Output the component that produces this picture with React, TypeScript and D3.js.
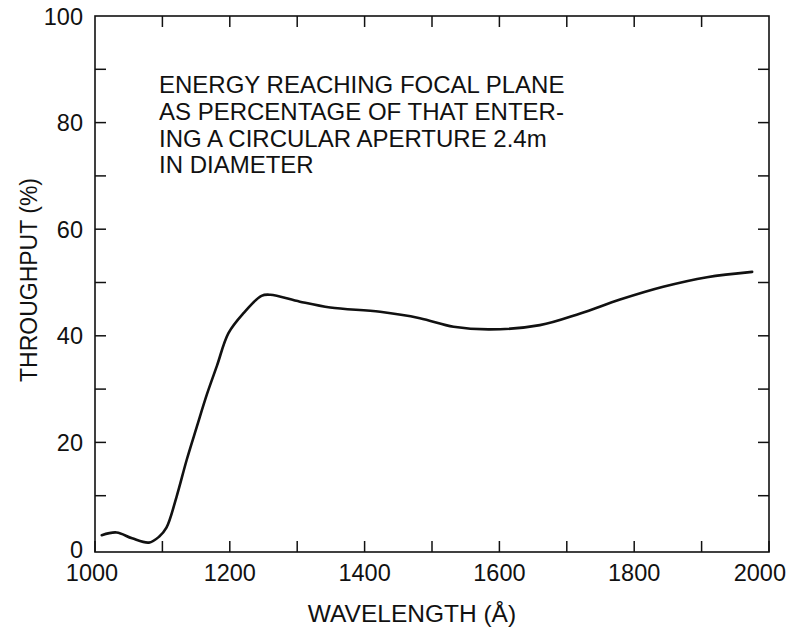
import React from "react";
import * as d3 from "d3";

const wavelength = [1010, 1032, 1055, 1080, 1095, 1106, 1121, 1136, 1151, 1166, 1181, 1198, 1220, 1247, 1260, 1304, 1349, 1423, 1482, 1532, 1586, 1660, 1720, 1779, 1843, 1908, 1975];
const throughput = [2.6, 3.1, 2.0, 1.2, 2.3, 4.0, 9.8, 16.7, 22.9, 29.0, 34.4, 40.5, 44.2, 47.5, 47.7, 46.4, 45.3, 44.5, 43.3, 41.7, 41.2, 42.0, 44.2, 46.8, 49.2, 51.0, 52.0];
const xTickLabels = [1000, 1200, 1400, 1600, 1800, 2000];
const yTickLabels = [0, 20, 40, 60, 80, 100];
const annotation = [
  "ENERGY REACHING FOCAL PLANE",
  "AS PERCENTAGE OF THAT ENTER-",
  "ING A CIRCULAR APERTURE 2.4m",
  "IN DIAMETER",
];

export default function App() {
  const W = 790, H = 633;
  const left = 95, right = 769, top = 16, frameBottom = 552;
  const x = d3.scaleLinear().domain([1000, 2000]).range([left, right]);
  const y = d3.scaleLinear().domain([0, 100]).range([549, top]);
  const minorX = d3.range(1000, 2001, 100);
  const minorY = d3.range(0, 101, 10);
  const tickLen = 11;
  const line = d3
    .line<number>()
    .x((_, i) => x(wavelength[i]))
    .y((d) => y(d))
    .curve(d3.curveCatmullRom.alpha(0.5));
  const font = "'Liberation Sans', Arial, Helvetica, sans-serif";
  const tickFs = 23.5;
  return (
    <svg width={W} height={H} style={{ position: "absolute", left: 0, top: 0, background: "#fff" }} fontFamily={font}>
      <rect x={0} y={0} width={W} height={H} fill="#fff" />
      <rect x={left} y={top} width={right - left} height={frameBottom - top} fill="none" stroke="#111" strokeWidth={1.6} />
      {minorX.map((v) => (
        <g key={"x" + v}>
          <line x1={x(v)} x2={x(v)} y1={frameBottom} y2={frameBottom - tickLen} stroke="#111" strokeWidth={1.5} />
          {v > 1000 && v < 2000 && (
            <line x1={x(v)} x2={x(v)} y1={top} y2={top + tickLen} stroke="#111" strokeWidth={1.5} />
          )}
        </g>
      ))}
      {minorY.map((v) => (
        <g key={"y" + v}>
          {v > 0 && v < 100 && (
            <>
              <line x1={left} x2={left + tickLen} y1={y(v)} y2={y(v)} stroke="#111" strokeWidth={1.5} />
              <line x1={right} x2={right - tickLen} y1={y(v)} y2={y(v)} stroke="#111" strokeWidth={1.5} />
            </>
          )}
        </g>
      ))}
      {xTickLabels.map((v, i) => {
        const last = i === xTickLabels.length - 1;
        const first = i === 0;
        return (
          <text
            key={"xl" + v}
            x={last ? W - 4 : x(v) - (first ? 3 : 0)}
            y={581}
            textAnchor={last ? "end" : "middle"}
            fontSize={tickFs}
            fill="#111"
          >
            {v}
          </text>
        );
      })}
      {yTickLabels.map((v) => (
        <text key={"yl" + v} x={83} y={y(v) + 8.5} textAnchor="end" fontSize={tickFs} fill="#111">
          {v}
        </text>
      ))}
      <text x={412} y={622} textAnchor="middle" fontSize={24.5} fill="#111">
        WAVELENGTH (Å)
      </text>
      <text transform={`translate(37,280) rotate(-90)`} textAnchor="middle" fontSize={23} fill="#111">
        THROUGHPUT (%)
      </text>
      {annotation.map((t, i) => (
        <text key={"a" + i} x={159} y={93 + i * 26.8} fontSize={24} fill="#111">
          {t}
        </text>
      ))}
      <path d={line(throughput) || ""} fill="none" stroke="#111" strokeWidth={2.6} strokeLinejoin="round" strokeLinecap="round" />
    </svg>
  );
}
